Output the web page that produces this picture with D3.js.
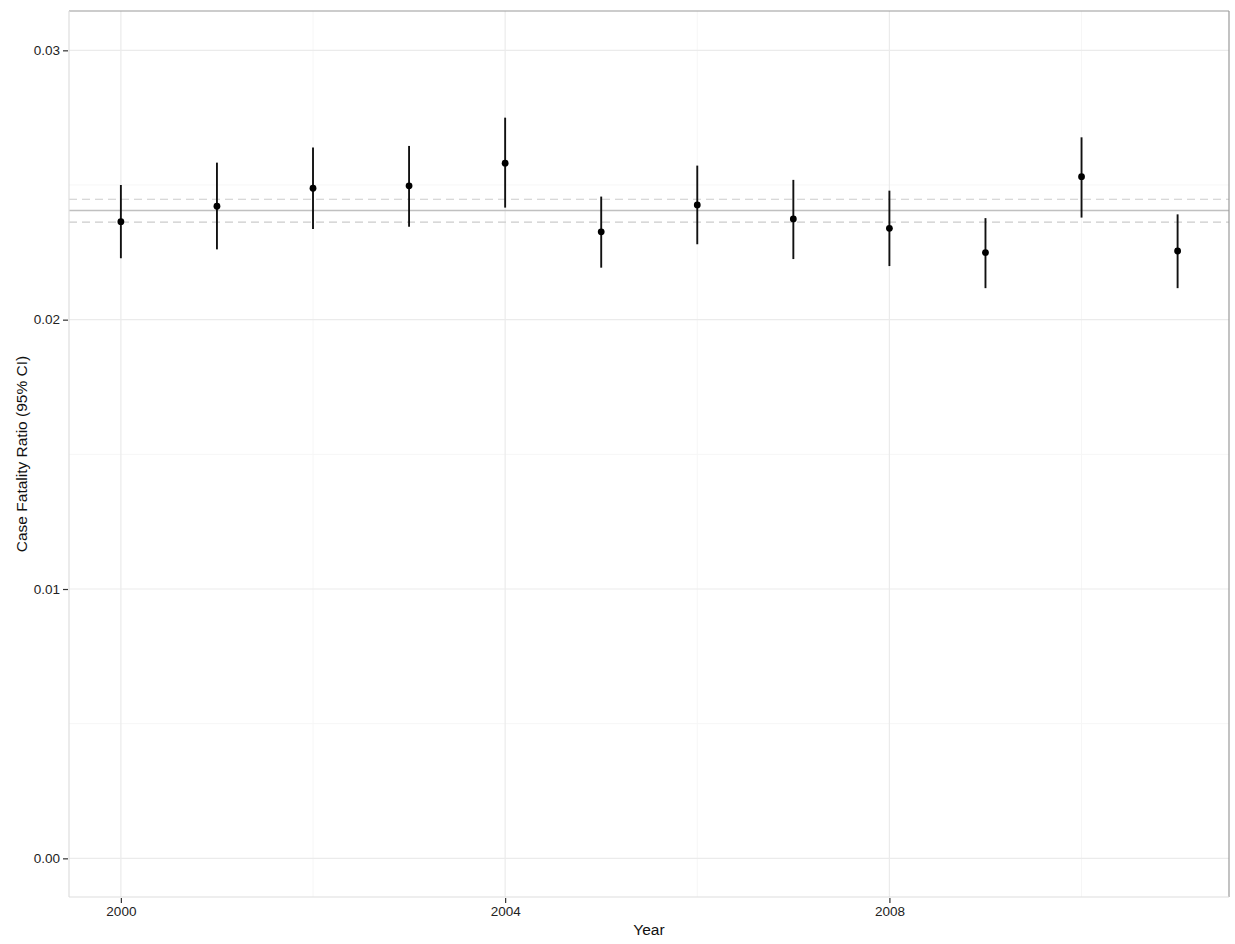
<!DOCTYPE html>
<html>
<head>
<meta charset="utf-8">
<script src="https://cdn.jsdelivr.net/npm/d3@7"></script>
<style>
  html, body { margin: 0; padding: 0; background: #fff; }
  svg { display: block; font-family: "Liberation Sans", Arial, sans-serif; }
</style>
</head>
<body>
<svg id="chart" width="1235" height="944"></svg>
<script>
// ---- data ----
const years = [2000, 2001, 2002, 2003, 2004, 2005, 2006, 2007, 2008, 2009, 2010, 2011];
const cfr   = [0.02364, 0.02421, 0.02488, 0.02497, 0.02581, 0.02326, 0.02426, 0.02374, 0.02339, 0.02249, 0.02531, 0.02255];
const lower = [0.02228, 0.02261, 0.02337, 0.02345, 0.02416, 0.02193, 0.02280, 0.02225, 0.02199, 0.02117, 0.02379, 0.02117];
const upper = [0.02500, 0.02583, 0.02639, 0.02645, 0.02750, 0.02457, 0.02572, 0.02519, 0.02479, 0.02377, 0.02677, 0.02391];
const overall = 0.02405;
const overallLower = 0.02362;
const overallUpper = 0.02447;
const xMajorTicks = [2000, 2004, 2008];
const xMinorTicks = [2002, 2006, 2010];
const yMajorTicks = [0.00, 0.01, 0.02, 0.03];
const yMinorTicks = [0.005, 0.015, 0.025];
const xTitle = "Year";
const yTitle = "Case Fatality Ratio (95% CI)";

// ---- layout ----
const panel = { left: 69, right: 1229, top: 11, bottom: 897 };
const svg = d3.select("#chart");

const x = d3.scaleLinear().domain([1999.46, 2011.535]).range([panel.left, panel.right]);
const y = d3.scaleLinear().domain([-0.001435, 0.03146]).range([panel.bottom, panel.top]);

const g = svg.append("g");

// minor grid
g.selectAll(".xminor").data(xMinorTicks).enter().append("line")
  .attr("x1", d => x(d)).attr("x2", d => x(d))
  .attr("y1", panel.top).attr("y2", panel.bottom)
  .attr("stroke", "#f6f6f6").attr("stroke-width", 1);
g.selectAll(".yminor").data(yMinorTicks).enter().append("line")
  .attr("y1", d => y(d)).attr("y2", d => y(d))
  .attr("x1", panel.left).attr("x2", panel.right)
  .attr("stroke", "#f6f6f6").attr("stroke-width", 1);
// major grid
g.selectAll(".xmajor").data(xMajorTicks).enter().append("line")
  .attr("x1", d => x(d)).attr("x2", d => x(d))
  .attr("y1", panel.top).attr("y2", panel.bottom)
  .attr("stroke", "#ebebeb").attr("stroke-width", 1.2);
g.selectAll(".ymajor").data(yMajorTicks).enter().append("line")
  .attr("y1", d => y(d)).attr("y2", d => y(d))
  .attr("x1", panel.left).attr("x2", panel.right)
  .attr("stroke", "#ebebeb").attr("stroke-width", 1.2);

// reference lines
g.append("line")
  .attr("x1", panel.left).attr("x2", panel.right)
  .attr("y1", y(overall)).attr("y2", y(overall))
  .attr("stroke", "#c0c0c0").attr("stroke-width", 1.5);
[overallLower, overallUpper].forEach(v => {
  g.append("line")
    .attr("x1", panel.left).attr("x2", panel.right)
    .attr("y1", y(v)).attr("y2", y(v))
    .attr("stroke", "#cccccc").attr("stroke-width", 1.2)
    .attr("stroke-dasharray", "8,5");
});

// error bars
const data = years.map((yr, i) => ({ yr, v: cfr[i], lo: lower[i], hi: upper[i] }));
g.selectAll(".err").data(data).enter().append("line")
  .attr("x1", d => x(d.yr)).attr("x2", d => x(d.yr))
  .attr("y1", d => y(d.lo)).attr("y2", d => y(d.hi))
  .attr("stroke", "#111").attr("stroke-width", 1.9);
g.selectAll(".pt").data(data).enter().append("circle")
  .attr("cx", d => x(d.yr)).attr("cy", d => y(d.v))
  .attr("r", 3.4).attr("fill", "#000");

// panel border (top/right darker, left/bottom lighter as in reference)
g.append("line").attr("x1", panel.left).attr("x2", panel.right).attr("y1", panel.top).attr("y2", panel.top)
  .attr("stroke", "#9a9a9a").attr("stroke-width", 1.2);
g.append("line").attr("x1", panel.right).attr("x2", panel.right).attr("y1", panel.top).attr("y2", panel.bottom)
  .attr("stroke", "#9a9a9a").attr("stroke-width", 1.2);
g.append("line").attr("x1", panel.left).attr("x2", panel.left).attr("y1", panel.top).attr("y2", panel.bottom)
  .attr("stroke", "#dedede").attr("stroke-width", 1.2);
g.append("line").attr("x1", panel.left).attr("x2", panel.right).attr("y1", panel.bottom).attr("y2", panel.bottom)
  .attr("stroke", "#dedede").attr("stroke-width", 1.2);

// axes
const xAxis = d3.axisBottom(x).tickValues(xMajorTicks).tickFormat(d3.format("d")).tickSize(5).tickPadding(3);
const yAxis = d3.axisLeft(y).tickValues(yMajorTicks).tickFormat(d3.format(".2f")).tickSize(5).tickPadding(3);

const gx = svg.append("g").attr("transform", `translate(0,${panel.bottom + 1})`).call(xAxis);
const gy = svg.append("g").attr("transform", `translate(${panel.left - 1},0)`).call(yAxis);
[gx, gy].forEach(a => {
  a.select(".domain").remove();
  a.selectAll(".tick line").attr("stroke", "#333").attr("stroke-width", 1.2);
  a.selectAll(".tick text").attr("fill", "#222").attr("font-size", "13.5px")
    .attr("font-family", "'Liberation Sans', Arial, sans-serif");
});

// titles
svg.append("text")
  .attr("x", (panel.left + panel.right) / 2).attr("y", 935)
  .attr("text-anchor", "middle").attr("font-size", "15.5px").attr("fill", "#111")
  .text(xTitle);
svg.append("text")
  .attr("transform", `translate(27,${(panel.top + panel.bottom) / 2}) rotate(-90)`)
  .attr("text-anchor", "middle").attr("font-size", "15.5px").attr("fill", "#111")
  .text(yTitle);
</script>
</body>
</html>
